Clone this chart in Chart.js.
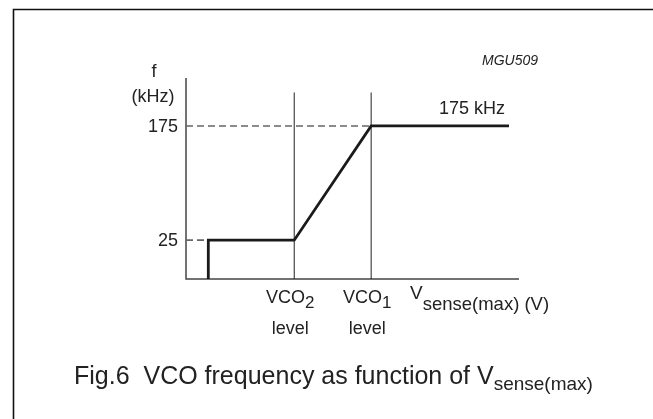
<!DOCTYPE html>
<html>
<head>
<meta charset="utf-8">
<script src="https://cdn.jsdelivr.net/npm/chart.js@4"></script>
<style>
  body { margin: 0; background: #fff; }
  #wrap { width: 653px; height: 419px; position: relative; }
</style>
</head>
<body>
<div id="wrap"><canvas id="vcoChart"></canvas></div>
<script>
// curve: VCO frequency vs V sense(max), in arbitrary voltage units
const voltage = [0.67, 0.67, 3.25, 5.56, 9.7];
const frequency = [-26, 25, 25, 175, 175];

// marked levels on the x axis
const levelNames = ['VCO', 'VCO'];
const levelSubs = ['2', '1'];
const levelValues = [3.25, 5.56];

// labelled frequencies on the y axis
const freqTicks = [25, 175];
const dashEnds = [0.67, 5.56];

const guideTop = 219;
const xMin = 0, xMax = 10, yMin = -26, yMax = 238;

const textColor = '#222';
const font = (size, style) => (style || '') + ' ' + size + 'px "Liberation Sans", Arial, sans-serif';

function drawParts(ctx, parts, x, baseline, align) {
    let total = 0;
    parts.forEach(p => { ctx.font = font(p.size, p.style); p.w = ctx.measureText(p.t).width; total += p.w; });
    let cx = align === 'center' ? x - total / 2 : x;
    ctx.textAlign = 'left';
    ctx.textBaseline = 'alphabetic';
    parts.forEach(p => {
        ctx.font = font(p.size, p.style);
        ctx.fillText(p.t, cx, baseline + (p.dy || 0));
        cx += p.w;
    });
}

const decor = {
    id: 'decor',
    beforeDatasetsDraw(chart) {
        const { ctx, chartArea: a } = chart;
        ctx.save();
        // page frame (left and top)
        ctx.strokeStyle = '#111';
        ctx.lineWidth = 1.6;
        ctx.beginPath();
        ctx.moveTo(13.5, 419);
        ctx.lineTo(13.5, 9.5);
        ctx.lineTo(653, 9.5);
        ctx.stroke();
        // axes
        ctx.strokeStyle = '#444';
        ctx.lineWidth = 1.5;
        ctx.beginPath();
        ctx.moveTo(a.left, a.top);
        ctx.lineTo(a.left, a.bottom);
        ctx.lineTo(a.right, a.bottom);
        ctx.stroke();
        ctx.restore();
    },
    afterDraw(chart) {
        const { ctx, chartArea: a, scales } = chart;
        const x = scales.x, y = scales.y;
        ctx.save();
        ctx.fillStyle = textColor;

        // y axis title
        ctx.font = font(18);
        ctx.textAlign = 'center';
        ctx.textBaseline = 'middle';
        ctx.fillText('f', a.left - 32, 72);
        ctx.fillText('(kHz)', a.left - 33, 97);

        // y tick labels
        ctx.textAlign = 'right';
        freqTicks.forEach(v => ctx.fillText(String(v), a.left - 8, y.getPixelForValue(v) + 1));

        // x level labels
        levelValues.forEach((v, i) => {
            const px = x.getPixelForValue(v) - 4;
            drawParts(ctx, [{ t: levelNames[i], size: 18 }, { t: levelSubs[i], size: 17, dy: 5 }], px, 303, 'center');
            ctx.font = font(18);
            ctx.textAlign = 'center';
            ctx.textBaseline = 'middle';
            ctx.fillText('level', px, 329);
        });

        // x axis title
        drawParts(ctx, [{ t: 'V', size: 19 }, { t: 'sense(max) (V)', size: 18.5, dy: 11 }], 410, 299, 'left');

        // plateau label
        ctx.font = font(18);
        ctx.textAlign = 'left';
        ctx.textBaseline = 'middle';
        ctx.fillText('175 kHz', 439, 109);

        // drawing code
        ctx.font = font(14, 'italic');
        ctx.textAlign = 'center';
        ctx.fillText('MGU509', 510, 61);

        // caption
        drawParts(ctx, [{ t: 'Fig.6  VCO frequency as function of V', size: 25 }, { t: 'sense(max)', size: 19, dy: 6 }], 74, 384, 'left');
        ctx.restore();
    }
};

const datasets = [];
// dashed reference lines from the y axis
freqTicks.forEach((v, i) => {
    datasets.push({
        data: [{ x: xMin, y: v }, { x: dashEnds[i], y: v }],
        borderColor: '#666', borderWidth: 1.6, borderDash: [7, 4],
        pointRadius: 0, showLine: true, order: 3
    });
});
// vertical guides at the VCO levels
levelValues.forEach(v => {
    datasets.push({
        data: [{ x: v, y: yMin }, { x: v, y: guideTop }],
        borderColor: '#222', borderWidth: 1,
        pointRadius: 0, showLine: true, order: 2
    });
});
// main curve
datasets.push({
    data: voltage.map((v, i) => ({ x: v, y: frequency[i] })),
    borderColor: '#1a1a1a', borderWidth: 2.8,
    pointRadius: 0, showLine: true, order: 1,
    borderJoinStyle: 'miter'
});

new Chart(document.getElementById('vcoChart'), {
    type: 'scatter',
    data: { datasets: datasets },
    options: {
        responsive: true,
        maintainAspectRatio: false,
        animation: false,
        layout: { padding: { left: 186, right: 134, top: 78, bottom: 140 } },
        plugins: { legend: { display: false }, tooltip: { enabled: false } },
        scales: {
            x: { type: 'linear', min: xMin, max: xMax, display: false },
            y: { type: 'linear', min: yMin, max: yMax, display: false }
        }
    },
    plugins: [decor]
});
</script>
</body>
</html>
